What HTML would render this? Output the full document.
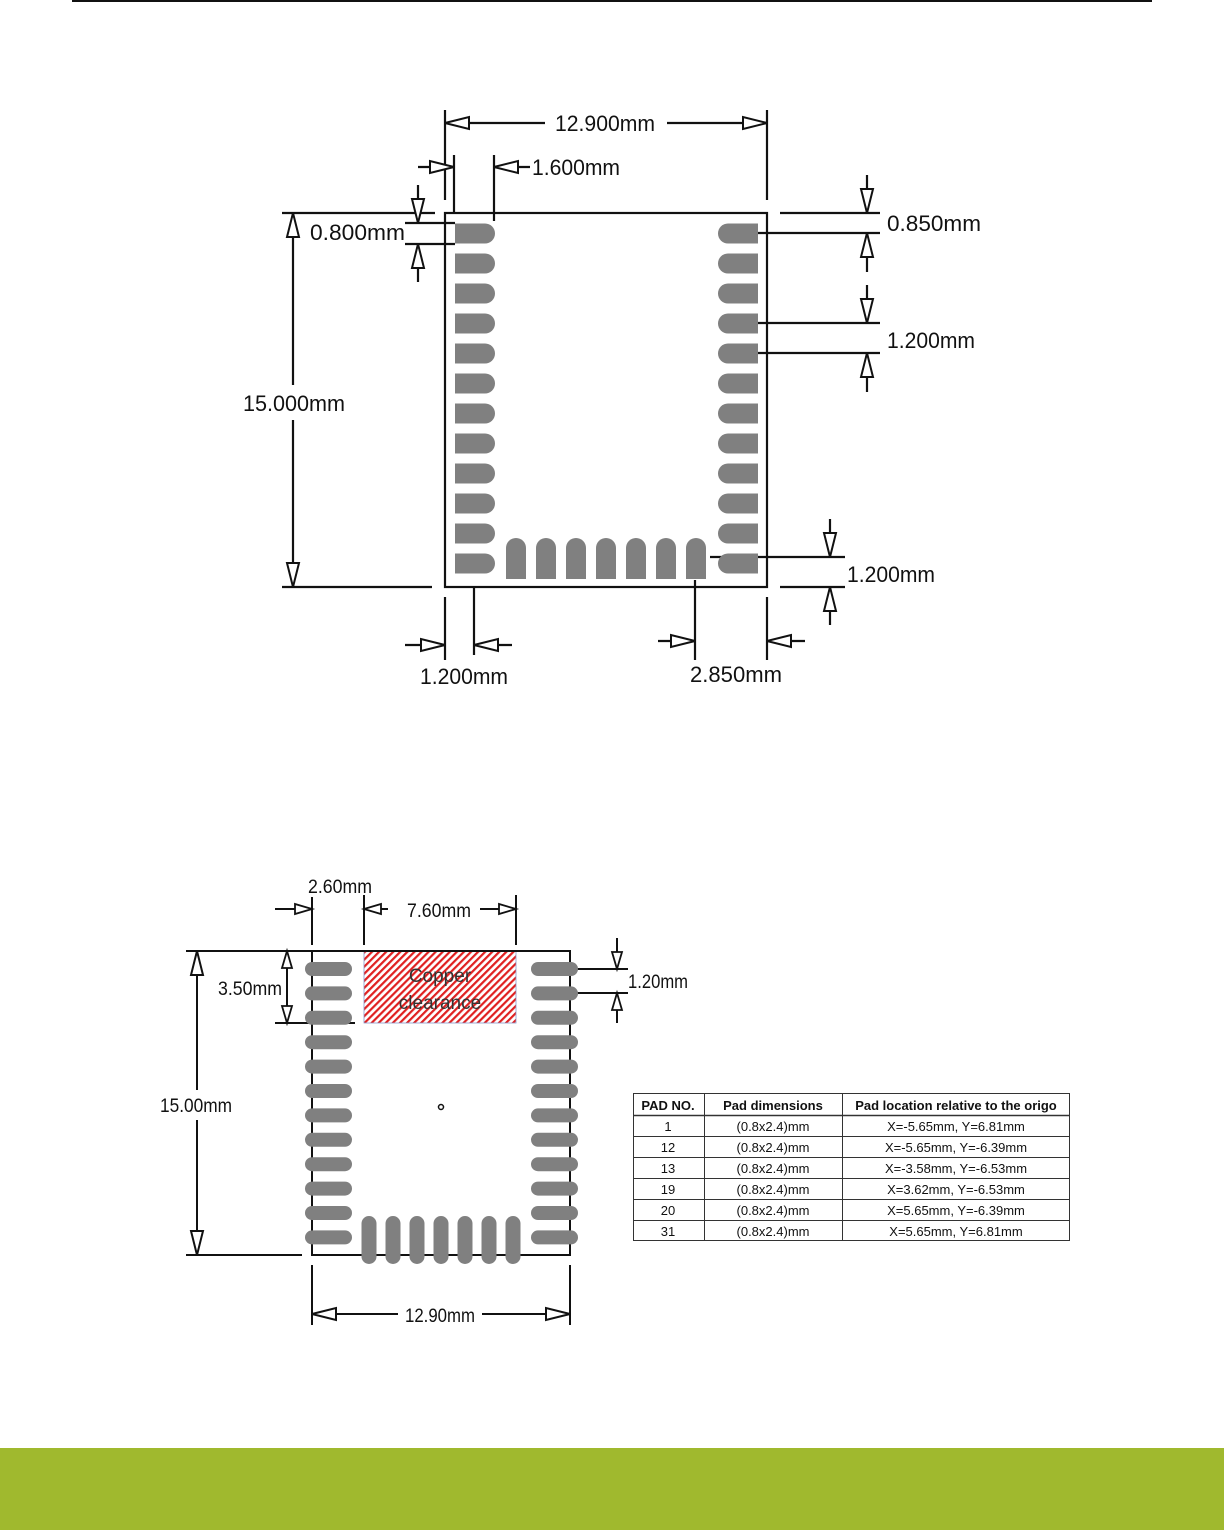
<!DOCTYPE html>
<html><head><meta charset="utf-8"><style>
html,body{margin:0;padding:0;background:#fff;}
body{width:1224px;height:1530px;position:relative;overflow:hidden;}
svg text{font-family:"Liberation Sans",sans-serif;fill:#111;}
</style></head><body>
<svg width="1224" height="1530" viewBox="0 0 1224 1530" xmlns="http://www.w3.org/2000/svg">
<defs>
<path id="A" d="M0,0 L-24,-6 L-24,6 Z" fill="#fff" stroke="#111" stroke-width="2"/>
<path id="a" d="M0,0 L-17,-5 L-17,5 Z" fill="#fff" stroke="#111" stroke-width="1.8"/>
<path id="pl" d="M0,-10 H30 A10,10 0 0 1 30,10 H0 Z" fill="#808080"/>
<path id="pr" d="M40,-10 H10 A10,10 0 0 0 10,10 H40 Z" fill="#808080"/>
<path id="pb" d="M-10,41 V10 A10,10 0 0 1 10,10 V41 Z" fill="#808080"/>
<rect id="ph" x="0" y="-7" width="47" height="14" rx="7" fill="#808080"/>
<rect id="pv" x="-7.5" y="0" width="15" height="48" rx="7.5" fill="#808080"/>
<pattern id="hatch" width="5" height="5" patternUnits="userSpaceOnUse" patternTransform="rotate(45)">
<rect width="5" height="5" fill="#fff"/><rect width="2.2" height="5" fill="#e02020"/>
</pattern>
</defs>
<line x1="72" y1="1" x2="1152" y2="1" stroke="#111" stroke-width="2"/>

<!-- TOP DIAGRAM -->
<g stroke="#111" stroke-width="2.2" fill="none">
<rect x="445" y="213" width="322" height="374"/>
<line x1="445" y1="110" x2="445" y2="200"/><line x1="767" y1="110" x2="767" y2="200"/>
<line x1="445" y1="123" x2="545" y2="123"/><line x1="667" y1="123" x2="767" y2="123"/>
<line x1="454" y1="155" x2="454" y2="213"/><line x1="494" y1="155" x2="494" y2="221"/>
<line x1="418" y1="167" x2="454" y2="167"/><line x1="494" y1="167" x2="530" y2="167"/>
<line x1="405" y1="223" x2="455" y2="223"/><line x1="405" y1="244" x2="455" y2="244"/>
<line x1="418" y1="185" x2="418" y2="223"/><line x1="418" y1="244" x2="418" y2="282"/>
<line x1="282" y1="213" x2="435" y2="213"/><line x1="282" y1="587" x2="432" y2="587"/>
<line x1="293" y1="213" x2="293" y2="385"/><line x1="293" y1="420" x2="293" y2="587"/>
<line x1="780" y1="213" x2="880" y2="213"/><line x1="758" y1="233" x2="880" y2="233"/>
<line x1="867" y1="175" x2="867" y2="213"/><line x1="867" y1="233" x2="867" y2="272"/>
<line x1="758" y1="323" x2="880" y2="323"/><line x1="758" y1="353" x2="880" y2="353"/>
<line x1="867" y1="285" x2="867" y2="323"/><line x1="867" y1="353" x2="867" y2="392"/>
<line x1="710" y1="557" x2="845" y2="557"/><line x1="780" y1="587" x2="845" y2="587"/>
<line x1="830" y1="519" x2="830" y2="557"/><line x1="830" y1="587" x2="830" y2="625"/>
<line x1="445" y1="597" x2="445" y2="660"/><line x1="474" y1="587" x2="474" y2="655"/>
<line x1="405" y1="645" x2="445" y2="645"/><line x1="474" y1="645" x2="512" y2="645"/>
<line x1="695" y1="580" x2="695" y2="660"/><line x1="767" y1="597" x2="767" y2="660"/>
<line x1="658" y1="641" x2="695" y2="641"/><line x1="767" y1="641" x2="805" y2="641"/>
</g>
<use href="#A" transform="translate(445,123) rotate(180)"/><use href="#A" transform="translate(767,123)"/>
<use href="#A" transform="translate(454,167)"/><use href="#A" transform="translate(494,167) rotate(180)"/>
<use href="#A" transform="translate(418,223) rotate(90)"/><use href="#A" transform="translate(418,244) rotate(-90)"/>
<use href="#A" transform="translate(293,213) rotate(-90)"/><use href="#A" transform="translate(293,587) rotate(90)"/>
<use href="#A" transform="translate(867,213) rotate(90)"/><use href="#A" transform="translate(867,233) rotate(-90)"/>
<use href="#A" transform="translate(867,323) rotate(90)"/><use href="#A" transform="translate(867,353) rotate(-90)"/>
<use href="#A" transform="translate(830,557) rotate(90)"/><use href="#A" transform="translate(830,587) rotate(-90)"/>
<use href="#A" transform="translate(445,645)"/><use href="#A" transform="translate(474,645) rotate(180)"/>
<use href="#A" transform="translate(695,641)"/><use href="#A" transform="translate(767,641) rotate(180)"/>
<g font-size="22">
<text x="555" y="131" textLength="100" lengthAdjust="spacingAndGlyphs">12.900mm</text>
<text x="532" y="175" textLength="88" lengthAdjust="spacingAndGlyphs">1.600mm</text>
<text x="310" y="240" textLength="95" lengthAdjust="spacingAndGlyphs">0.800mm</text>
<text x="243" y="411" textLength="102" lengthAdjust="spacingAndGlyphs">15.000mm</text>
<text x="887" y="231" textLength="94" lengthAdjust="spacingAndGlyphs">0.850mm</text>
<text x="887" y="348" textLength="88" lengthAdjust="spacingAndGlyphs">1.200mm</text>
<text x="847" y="582" textLength="88" lengthAdjust="spacingAndGlyphs">1.200mm</text>
<text x="420" y="684" textLength="88" lengthAdjust="spacingAndGlyphs">1.200mm</text>
<text x="690" y="682" textLength="92" lengthAdjust="spacingAndGlyphs">2.850mm</text>
</g>
<g>
<use href="#pl" x="455" y="233.5"/><use href="#pl" x="455" y="263.5"/><use href="#pl" x="455" y="293.5"/><use href="#pl" x="455" y="323.5"/>
<use href="#pl" x="455" y="353.5"/><use href="#pl" x="455" y="383.5"/><use href="#pl" x="455" y="413.5"/><use href="#pl" x="455" y="443.5"/>
<use href="#pl" x="455" y="473.5"/><use href="#pl" x="455" y="503.5"/><use href="#pl" x="455" y="533.5"/><use href="#pl" x="455" y="563.5"/>
<use href="#pr" x="718" y="233.5"/><use href="#pr" x="718" y="263.5"/><use href="#pr" x="718" y="293.5"/><use href="#pr" x="718" y="323.5"/>
<use href="#pr" x="718" y="353.5"/><use href="#pr" x="718" y="383.5"/><use href="#pr" x="718" y="413.5"/><use href="#pr" x="718" y="443.5"/>
<use href="#pr" x="718" y="473.5"/><use href="#pr" x="718" y="503.5"/><use href="#pr" x="718" y="533.5"/><use href="#pr" x="718" y="563.5"/>
<use href="#pb" x="516" y="538"/><use href="#pb" x="546" y="538"/><use href="#pb" x="576" y="538"/><use href="#pb" x="606" y="538"/>
<use href="#pb" x="636" y="538"/><use href="#pb" x="666" y="538"/><use href="#pb" x="696" y="538"/>
</g>

<!-- BOTTOM DIAGRAM -->
<rect x="364" y="951" width="152" height="72" fill="url(#hatch)" stroke="#8899cc" stroke-width="0.8"/>
<g font-size="19" fill="#333" text-anchor="middle">
<text x="440" y="982" style="fill:#333">Copper</text>
<text x="440" y="1009" style="fill:#333">clearance</text>
</g>
<g stroke="#111" stroke-width="2" fill="none">
<rect x="312" y="951" width="258" height="304"/>
<line x1="312" y1="897" x2="312" y2="945"/><line x1="364" y1="895" x2="364" y2="945"/><line x1="516" y1="895" x2="516" y2="945"/>
<line x1="275" y1="909" x2="312" y2="909"/><line x1="364" y1="909" x2="388" y2="909"/><line x1="480" y1="909" x2="516" y2="909"/>
<line x1="287" y1="951" x2="287" y2="1023"/><line x1="275" y1="1023" x2="355" y2="1023"/>
<line x1="577" y1="969" x2="628" y2="969"/><line x1="577" y1="993" x2="628" y2="993"/>
<line x1="617" y1="938" x2="617" y2="969"/><line x1="617" y1="993" x2="617" y2="1023"/>
<line x1="186" y1="951" x2="312" y2="951"/><line x1="186" y1="1255" x2="302" y2="1255"/>
<line x1="197" y1="951" x2="197" y2="1090"/><line x1="197" y1="1120" x2="197" y2="1255"/>
<line x1="312" y1="1265" x2="312" y2="1325"/><line x1="570" y1="1265" x2="570" y2="1325"/>
<line x1="312" y1="1314" x2="398" y2="1314"/><line x1="482" y1="1314" x2="570" y2="1314"/>
</g>
<use href="#a" transform="translate(312,909)"/><use href="#a" transform="translate(364,909) rotate(180)"/><use href="#a" transform="translate(516,909)"/>
<use href="#a" transform="translate(287,951) rotate(-90)"/><use href="#a" transform="translate(287,1023) rotate(90)"/>
<use href="#a" transform="translate(617,969) rotate(90)"/><use href="#a" transform="translate(617,993) rotate(-90)"/>
<use href="#A" transform="translate(197,951) rotate(-90)"/><use href="#A" transform="translate(197,1255) rotate(90)"/>
<use href="#A" transform="translate(312,1314) rotate(180)"/><use href="#A" transform="translate(570,1314)"/>
<g font-size="19">
<text x="308" y="893" textLength="64" lengthAdjust="spacingAndGlyphs">2.60mm</text>
<text x="407" y="917" textLength="64" lengthAdjust="spacingAndGlyphs">7.60mm</text>
<text x="218" y="995" textLength="64" lengthAdjust="spacingAndGlyphs">3.50mm</text>
<text x="628" y="988" textLength="60" lengthAdjust="spacingAndGlyphs">1.20mm</text>
<text x="160" y="1112" textLength="72" lengthAdjust="spacingAndGlyphs">15.00mm</text>
<text x="405" y="1322" textLength="70" lengthAdjust="spacingAndGlyphs">12.90mm</text>
</g>
<g>
<use href="#ph" x="305" y="969"/><use href="#ph" x="305" y="993.4"/><use href="#ph" x="305" y="1017.8"/><use href="#ph" x="305" y="1042.2"/>
<use href="#ph" x="305" y="1066.6"/><use href="#ph" x="305" y="1091"/><use href="#ph" x="305" y="1115.4"/><use href="#ph" x="305" y="1139.8"/>
<use href="#ph" x="305" y="1164.2"/><use href="#ph" x="305" y="1188.6"/><use href="#ph" x="305" y="1213"/><use href="#ph" x="305" y="1237.4"/>
<use href="#ph" x="531" y="969"/><use href="#ph" x="531" y="993.4"/><use href="#ph" x="531" y="1017.8"/><use href="#ph" x="531" y="1042.2"/>
<use href="#ph" x="531" y="1066.6"/><use href="#ph" x="531" y="1091"/><use href="#ph" x="531" y="1115.4"/><use href="#ph" x="531" y="1139.8"/>
<use href="#ph" x="531" y="1164.2"/><use href="#ph" x="531" y="1188.6"/><use href="#ph" x="531" y="1213"/><use href="#ph" x="531" y="1237.4"/>
<use href="#pv" x="369" y="1216"/><use href="#pv" x="393" y="1216"/><use href="#pv" x="417" y="1216"/><use href="#pv" x="441" y="1216"/>
<use href="#pv" x="465" y="1216"/><use href="#pv" x="489" y="1216"/><use href="#pv" x="513" y="1216"/>
</g>
<circle cx="441" cy="1107" r="2.5" fill="none" stroke="#111" stroke-width="1.5"/>

<!-- TABLE -->
<g stroke="#333" stroke-width="1" fill="none">
<rect x="633.5" y="1093.5" width="436" height="147"/>
<line x1="704.5" y1="1093" x2="704.5" y2="1241"/><line x1="842.5" y1="1093" x2="842.5" y2="1241"/>
<line x1="633" y1="1115.5" x2="1070" y2="1115.5" stroke-width="1.5"/>
<line x1="633" y1="1136.5" x2="1070" y2="1136.5"/><line x1="633" y1="1157.5" x2="1070" y2="1157.5"/>
<line x1="633" y1="1178.5" x2="1070" y2="1178.5"/><line x1="633" y1="1199.5" x2="1070" y2="1199.5"/>
<line x1="633" y1="1220.5" x2="1070" y2="1220.5"/>
</g>
<g font-size="13" text-anchor="middle">
<text x="668" y="1110" font-weight="bold">PAD NO.</text>
<text x="773" y="1110" font-weight="bold">Pad dimensions</text>
<text x="956" y="1110" font-weight="bold">Pad location relative to the origo</text>
<text x="668" y="1131">1</text><text x="773" y="1131">(0.8x2.4)mm</text><text x="956" y="1131">X=-5.65mm, Y=6.81mm</text>
<text x="668" y="1152">12</text><text x="773" y="1152">(0.8x2.4)mm</text><text x="956" y="1152">X=-5.65mm, Y=-6.39mm</text>
<text x="668" y="1173">13</text><text x="773" y="1173">(0.8x2.4)mm</text><text x="956" y="1173">X=-3.58mm, Y=-6.53mm</text>
<text x="668" y="1194">19</text><text x="773" y="1194">(0.8x2.4)mm</text><text x="956" y="1194">X=3.62mm, Y=-6.53mm</text>
<text x="668" y="1215">20</text><text x="773" y="1215">(0.8x2.4)mm</text><text x="956" y="1215">X=5.65mm, Y=-6.39mm</text>
<text x="668" y="1236">31</text><text x="773" y="1236">(0.8x2.4)mm</text><text x="956" y="1236">X=5.65mm, Y=6.81mm</text>
</g>

<rect x="0" y="1448" width="1224" height="82" fill="#a0b92e"/>
</svg>
</body></html>
